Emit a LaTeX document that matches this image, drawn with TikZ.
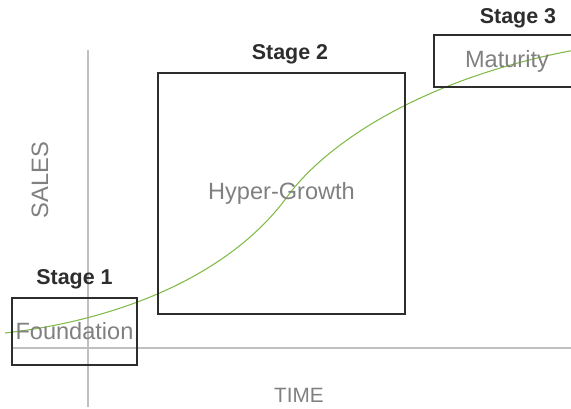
\documentclass[tikz,border=0pt]{standalone}
\usepackage{fontspec}
\setmainfont{Liberation Sans}
\usetikzlibrary{positioning}

\definecolor{axisgray}{RGB}{192,192,192}
\definecolor{textgray}{RGB}{128,128,128}
\definecolor{boxline}{RGB}{45,45,45}
\definecolor{curvegreen}{RGB}{128,186,72}

\tikzset{
    stagebox/.style={rectangle, draw=boxline, line width=1.1pt, inner sep=0pt,
        text=textgray, font=\fontsize{13.4}{16}\selectfont},
    stagelabel/.style={inner sep=0pt, text=boxline, font=\fontsize{12.2}{14}\selectfont\bfseries},
    axislabel/.style={text=textgray, inner sep=0pt}
}

\begin{document}
\begin{tikzpicture}
        \useasboundingbox (-1.76,-1.22) rectangle (9.66,6.96);
        \clip (-1.76,-1.22) rectangle (9.66,6.96);

        % Axes
        \coordinate (o) at (0,0);
        \coordinate (ytop) at (0,5.96);
        \coordinate (ybot) at (0,-1.18);
        \coordinate (xleft) at (-1.52,0);
        \coordinate (xright) at (9.8,0);
        \draw[axisgray, line width=0.85pt] (ybot) -- (ytop);
        \draw[axisgray, line width=0.85pt] (xleft) -- (xright);
        \node[axislabel, rotate=90, font=\fontsize{13.5}{16}\selectfont] (sales) at (-0.96,3.36) {SALES};
        \node[axislabel, font=\fontsize{11.8}{14}\selectfont] (time) at (4.22,-0.94) {TIME};

        % Growth curve
        \coordinate (c0) at (-1.66,0.3);
        \coordinate (cm) at (3.98,3.02);
        \coordinate (c1) at (9.74,5.96);
        \draw[curvegreen, line width=0.6pt]
            (c0) .. controls (0.64,0.56) and (2.84,1.46) .. (cm)
                 .. controls (4.78,4.12) and (6.74,5.4) .. (c1);

        % Stages
        \node[stagebox, minimum width=2.5cm, minimum height=1.34cm] (s1) at (-0.27,0.33) {Foundation};
        \node[stagebox, minimum width=4.94cm, minimum height=4.82cm] (s2) at (3.87,3.09) {Hyper-Growth};
        \node[stagebox, minimum width=2.92cm, minimum height=1.04cm] (s3) at (8.38,5.74) {Maturity};

        \node[stagelabel, above=0.16 of s1] (t1) {Stage 1};
        \node[stagelabel, above=0.16 of s2, xshift=0.17cm] (t2) {Stage 2};
        \node[stagelabel, above=0.12 of s3, xshift=0.22cm] (t3) {Stage 3};
\end{tikzpicture}
\end{document}
